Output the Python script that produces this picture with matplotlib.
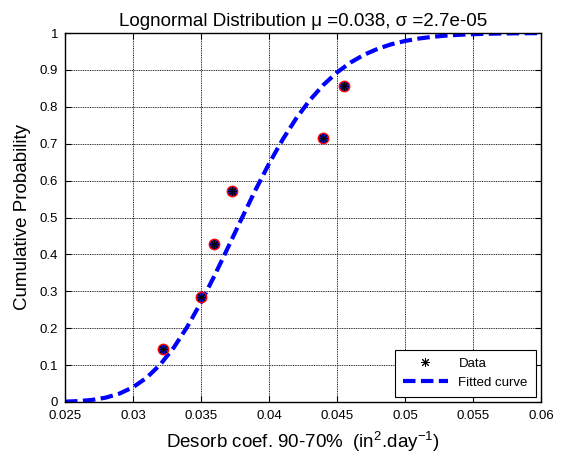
import matplotlib
matplotlib.use("Agg")
import matplotlib.pyplot as plt

plt.rcParams['font.family'] = ['Liberation Sans', 'DejaVu Sans']

# Data points (empirical CDF)
data_x = [0.0322, 0.0350, 0.03596, 0.03726, 0.04399, 0.04552]
data_y = [0.1429, 0.2857, 0.4286, 0.5714, 0.7143, 0.8571]

# Fitted curve values
fit_x = [0.025, 0.026, 0.027, 0.028, 0.029, 0.030, 0.031, 0.032, 0.033, 0.034,
         0.035, 0.036, 0.037, 0.038, 0.039, 0.040, 0.041, 0.042, 0.043, 0.044,
         0.045, 0.046, 0.047, 0.048, 0.049, 0.050, 0.051, 0.052, 0.053, 0.054,
         0.055, 0.056, 0.057, 0.058, 0.059, 0.060]
fit_y = [0.0010, 0.0025, 0.0057, 0.0119, 0.0227, 0.0400, 0.0657, 0.1013, 0.1476, 0.2043,
         0.2702, 0.3430, 0.4200, 0.4980, 0.5741, 0.6458, 0.7110, 0.7686, 0.8181, 0.8594,
         0.8932, 0.9202, 0.9412, 0.9573, 0.9695, 0.9784, 0.9849, 0.9896, 0.9929, 0.9952,
         0.9968, 0.9979, 0.9986, 0.9991, 0.9994, 0.9996]

xticks = [0.025, 0.03, 0.035, 0.04, 0.045, 0.05, 0.055, 0.06]
xticklabels = ['0.025', '0.03', '0.035', '0.04', '0.045', '0.05', '0.055', '0.06']
yticks = [0, 0.1, 0.2, 0.3, 0.4, 0.5, 0.6, 0.7, 0.8, 0.9, 1]
yticklabels = ['0', '0.1', '0.2', '0.3', '0.4', '0.5', '0.6', '0.7', '0.8', '0.9', '1']

fig = plt.figure(figsize=(5.61, 4.63), dpi=100)
ax = fig.add_axes([65/561, 1 - 402/463, 476/561, 369/463])

ax.plot(data_x, data_y, linestyle='none', marker='o', markersize=7.5,
        markerfacecolor='#1010d0', markeredgecolor='red', markeredgewidth=1.0, zorder=3)
ax.plot(data_x, data_y, linestyle='none', marker=(8, 2, 0), markersize=6.5,
        color='black', markeredgewidth=0.7, label='Data', zorder=4)
line, = ax.plot(fit_x, fit_y, color='#0000ff', linewidth=3.0, linestyle='--',
                label='Fitted curve', zorder=2)
line.set_dashes((3, 1.3))

ax.set_xlim(0.025, 0.06)
ax.set_ylim(0, 1)
ax.set_xticks(xticks)
ax.set_xticklabels(xticklabels)
ax.set_yticks(yticks)
ax.set_yticklabels(yticklabels)
ax.tick_params(direction='in', top=True, right=True, labelsize=9.5, length=4, width=0.8)
ax.tick_params(axis='x', pad=6)
ax.tick_params(axis='y', pad=5)
for s in ax.spines.values():
    s.set_linewidth(1.0)

ax.grid(True, color='#222222', linestyle=(0, (1, 0.8)), linewidth=0.7)
ax.set_axisbelow(True)

ax.set_title('Lognormal Distribution \u03bc =0.038, \u03c3 =2.7e-05', fontsize=13.5, pad=5)
ax.set_xlabel('Desorb coef. 90-70%  (in$^{\\mathregular{2}}$.day$^{\\mathregular{-1}}$)',
              fontsize=13.5, labelpad=5)
ax.set_ylabel('Cumulative Probability', fontsize=13.5, labelpad=6)

leg = ax.legend(loc='lower right', fontsize=9.5, frameon=True, fancybox=False,
                edgecolor='black', handlelength=3.4, borderaxespad=0.4,
                borderpad=0.6, framealpha=1)
leg.get_frame().set_linewidth(0.8)

fig.savefig('out.png', dpi=100)
